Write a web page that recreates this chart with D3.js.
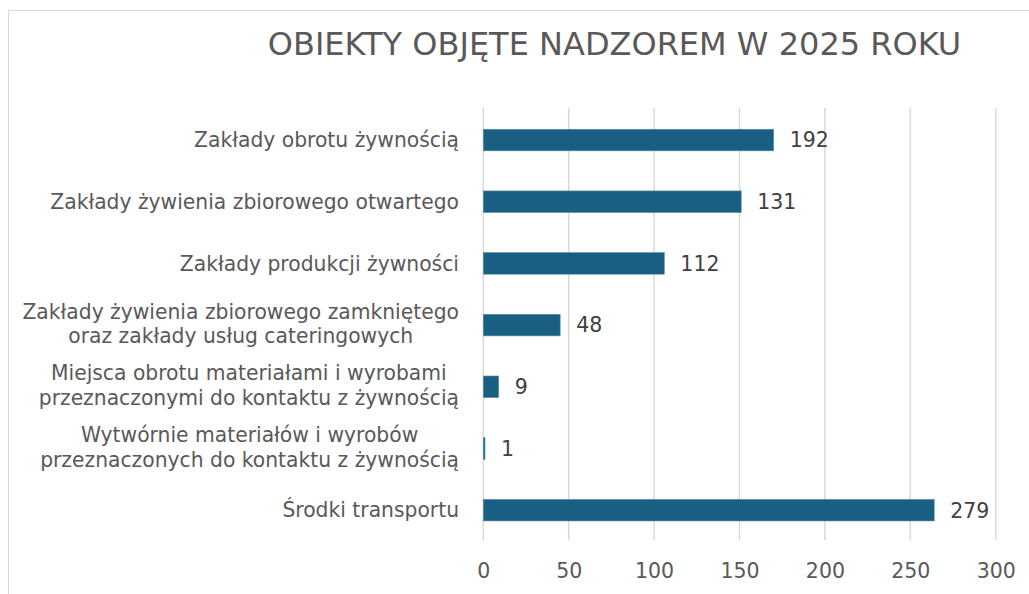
<!DOCTYPE html>
<html>
<head>
<meta charset="utf-8">
<script src="https://cdn.jsdelivr.net/npm/d3@7"></script>
<style>
  html, body { margin: 0; padding: 0; background: #ffffff; }
  svg { display: block; }
  text { font-family: "DejaVu Sans", "Open Sans", sans-serif; }
</style>
</head>
<body>
<svg id="chart" width="1029" height="594"></svg>
<script>
// ---- data ----
const titleText = "OBIEKTY OBJĘTE NADZOREM W 2025 ROKU";
const categories = [
  ["Zakłady obrotu żywnością"],
  ["Zakłady żywienia zbiorowego otwartego"],
  ["Zakłady produkcji żywności"],
  ["Zakłady żywienia zbiorowego zamkniętego", "oraz zakłady usług cateringowych"],
  ["Miejsca obrotu materiałami i wyrobami", "przeznaczonymi do kontaktu z żywnością"],
  ["Wytwórnie materiałów i wyrobów", "przeznaczonych do kontaktu z żywnością"],
  ["Środki transportu"]
];
// bar lengths as drawn in the picture
const barValues = [170, 151, 106, 45, 9, 1, 264];
// data labels as printed next to the bars
const dataLabels = ["192", "131", "112", "48", "9", "1", "279"];
const xTicks = [0, 50, 100, 150, 200, 250, 300];

// ---- layout ----
const svg = d3.select("#chart");
const plot = { left: 483.3, right: 995.7, top: 109.2, bottom: 541, gridTop: 108, gridBottom: 540 };
const labelRight = 459;
const textColor = "#595959";
const barColor = "#185f81";

// helper: font size so that a text spans a target width
function fitSize(str, target, base) {
  const t = svg.append("text").attr("font-size", base).text(str);
  const w = t.node().getComputedTextLength();
  t.remove();
  return base * target / w;
}
const catSize = Math.min(20.5, fitSize("Zakłady obrotu żywnością", 265, 20));
const titleSize = Math.min(32, fitSize(titleText, 697, 30));
const numSize = 20.5;

// chart area border
svg.append("rect")
  .attr("x", 8.5).attr("y", 10.5)
  .attr("width", 1100).attr("height", 700)
  .attr("fill", "none").attr("stroke", "#d9d9d9").attr("stroke-width", 1);

const x = d3.scaleLinear().domain([0, 300]).range([plot.left, plot.right]);
const y = d3.scaleBand().domain(d3.range(categories.length)).range([plot.top, plot.bottom]).padding(0);
const barH = y.bandwidth() * 0.35;

// gridlines
svg.append("g").selectAll("line").data(xTicks).join("line")
  .attr("x1", d => x(d)).attr("x2", d => x(d))
  .attr("y1", plot.gridTop).attr("y2", plot.gridBottom)
  .attr("stroke", "#d9d9d9").attr("stroke-width", 1.5);

// x axis tick labels via d3 axis
const axis = d3.axisBottom(x).tickValues(xTicks).tickSize(0).tickPadding(0);
const axG = svg.append("g").attr("transform", `translate(0,${plot.gridBottom + 31})`).call(axis);
axG.select(".domain").remove();
axG.selectAll("text")
  .attr("font-family", '"DejaVu Sans", sans-serif')
  .attr("font-size", numSize).attr("fill", textColor).attr("y", 0).attr("dy", "0.36em");

// bars
svg.append("g").selectAll("rect").data(barValues).join("rect")
  .attr("x", x(0))
  .attr("y", (d, i) => y(i) + y.bandwidth() / 2 - barH / 2)
  .attr("width", d => x(d) - x(0))
  .attr("height", barH)
  .attr("fill", barColor)
  .attr("stroke", "#5e8ea8").attr("stroke-width", 0.6);

// data labels
svg.append("g").selectAll("text").data(barValues).join("text")
  .attr("x", d => x(d) + 16)
  .attr("y", (d, i) => y(i) + y.bandwidth() / 2)
  .attr("dy", "0.36em")
  .attr("font-size", numSize)
  .attr("fill", "#404040")
  .text((d, i) => dataLabels[i]);

// category labels (centered block, right aligned to labelRight)
const lineGap = 24.8;
categories.forEach((lines, i) => {
  const cy = y(i) + y.bandwidth() / 2 - (lines.length > 1 ? 1.5 : 0);
  const g = svg.append("g");
  const texts = lines.map((ln, j) => g.append("text")
    .attr("font-size", catSize)
    .attr("fill", textColor)
    .attr("text-anchor", "middle")
    .attr("y", cy + (j - (lines.length - 1) / 2) * lineGap)
    .attr("dy", "0.36em")
    .text(ln));
  const maxW = d3.max(texts, t => t.node().getComputedTextLength());
  texts.forEach(t => t.attr("x", labelRight - maxW / 2));
});

// title
svg.append("text")
  .attr("x", 614.5).attr("y", 55)
  .attr("text-anchor", "middle")
  .attr("font-size", titleSize)
  .attr("fill", textColor)
  .text(titleText);
</script>
</body>
</html>
